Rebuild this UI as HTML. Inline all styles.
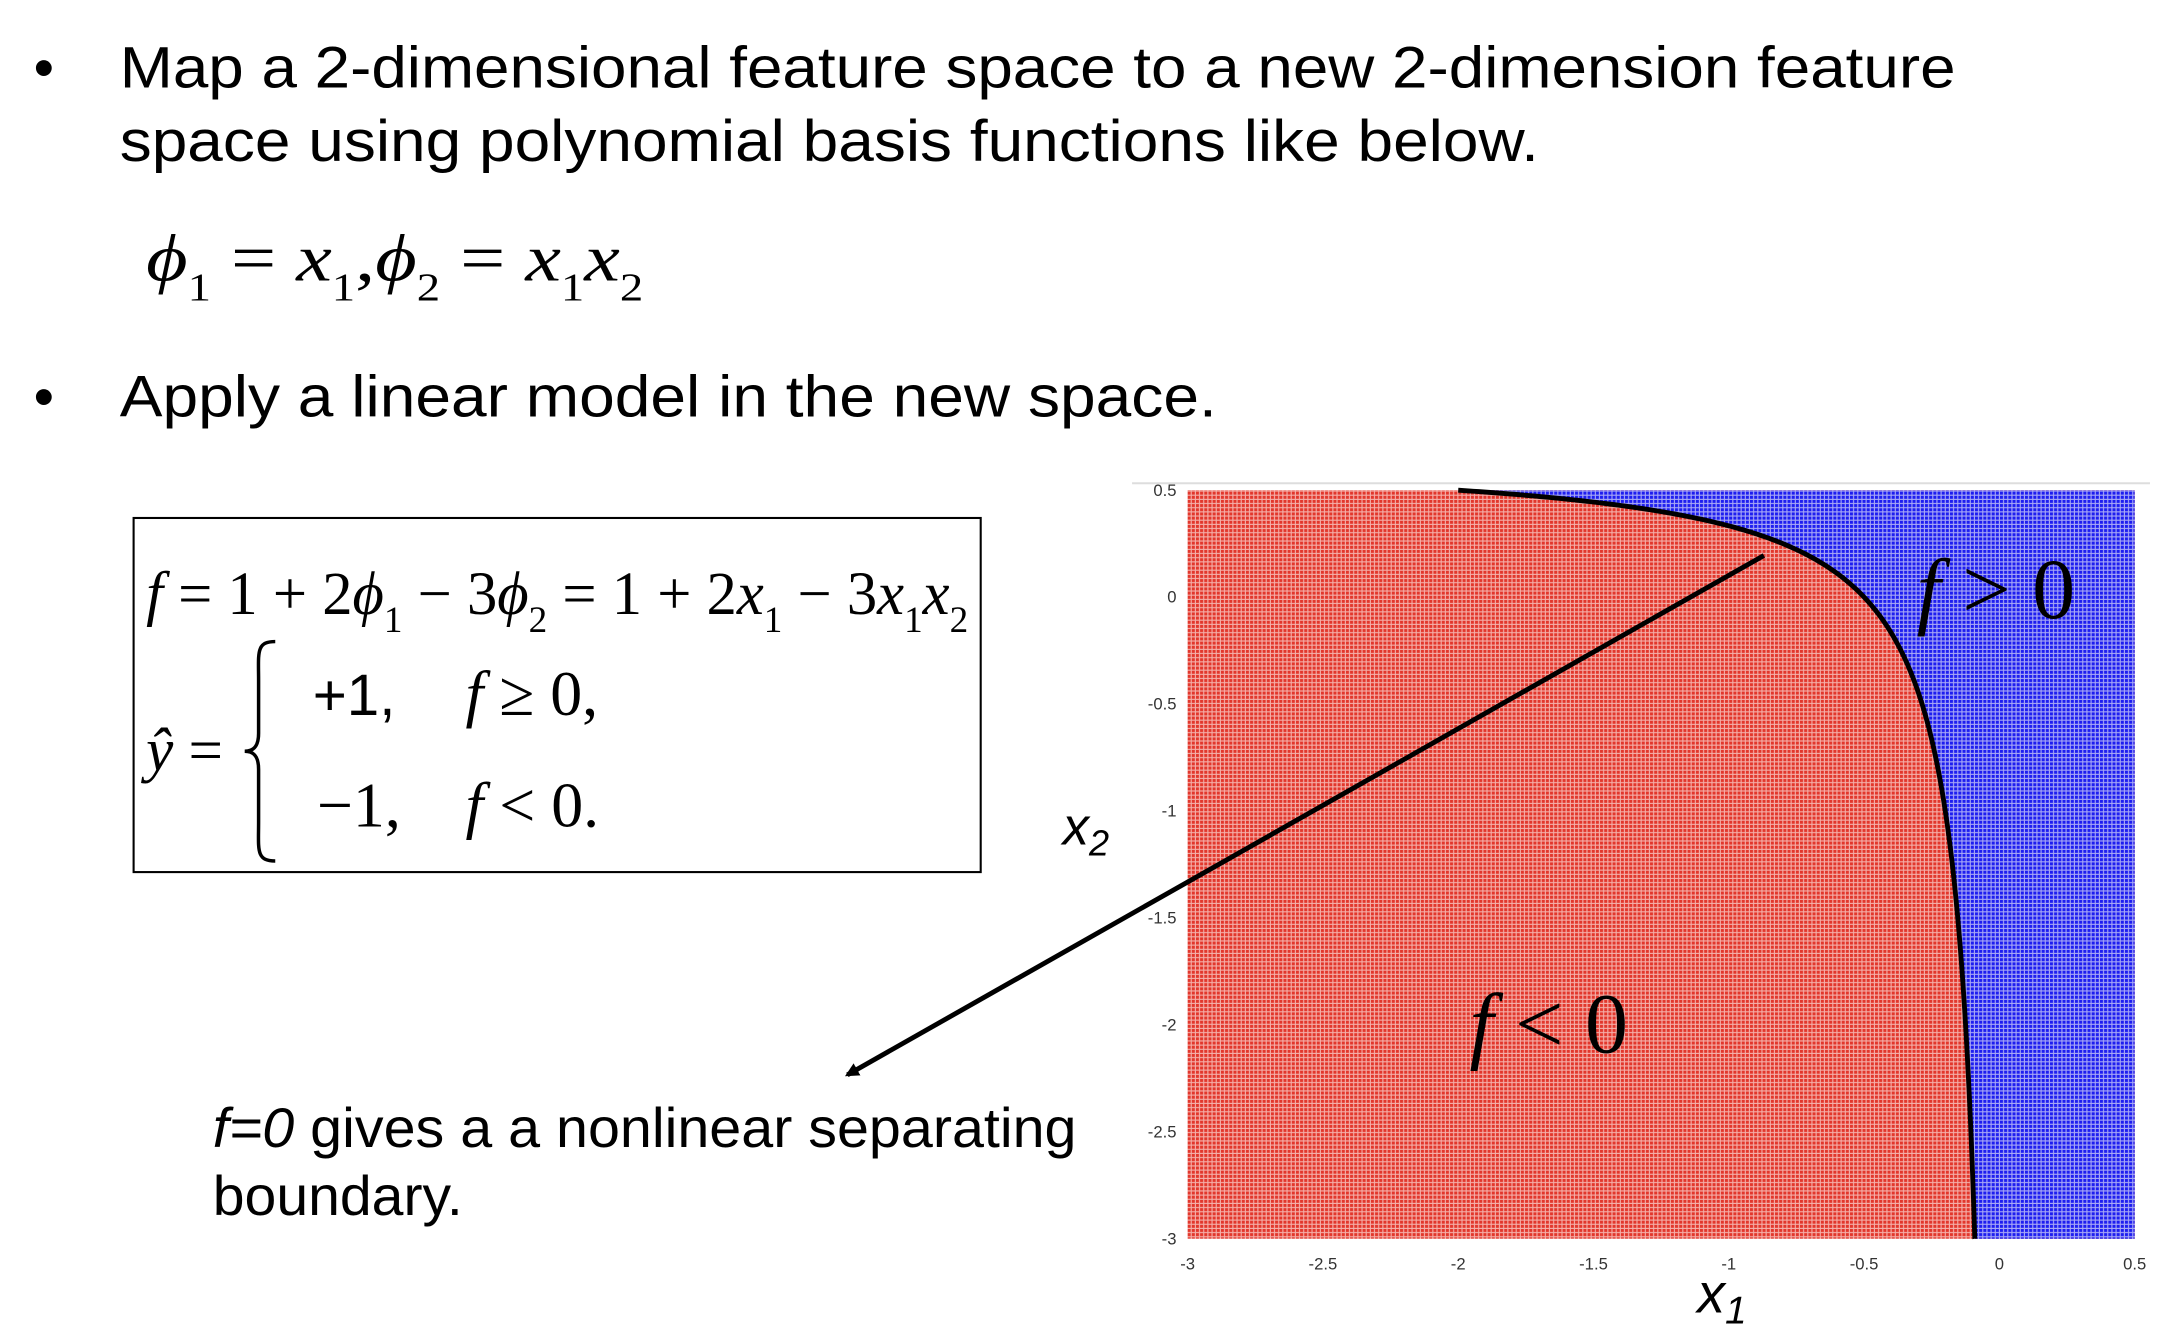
<!DOCTYPE html>
<html><head><meta charset="utf-8"><style>
html,body{margin:0;padding:0;background:#fff;width:2180px;height:1330px;overflow:hidden}
svg{display:block}
.sans{font-family:"Liberation Sans",Arial,sans-serif}
.serif{font-family:"Liberation Serif","Times New Roman",serif}
</style></head><body>
<svg id="s" width="2180" height="1330" viewBox="0 0 1560 952" xmlns="http://www.w3.org/2000/svg">
<defs>
<pattern id="pr" width="3" height="3" patternUnits="userSpaceOnUse"><rect width="3" height="3" fill="#f4b0aa"/><rect width="2.2" height="2.2" fill="#e2372c"/></pattern>
<pattern id="pb" width="3" height="3" patternUnits="userSpaceOnUse"><rect width="3" height="3" fill="#a9a9f5"/><rect width="2.2" height="2.2" fill="#1e1ef0"/></pattern>
<marker id="ah" markerWidth="10" markerHeight="10" refX="8" refY="5" orient="auto" markerUnits="userSpaceOnUse"><path d="M0,0 L10,5 L0,10 z" fill="#000"/></marker>
</defs>
<g transform="scale(0.994)">
<g class="sans" font-size="42" fill="#000">
<text x="24" y="63">•</text>
<text x="86" y="63" textLength="1322" lengthAdjust="spacingAndGlyphs">Map a 2-dimensional feature space to a new 2-dimension feature</text>
<text x="86" y="116" textLength="1022" lengthAdjust="spacingAndGlyphs">space using polynomial basis functions like below.</text>
<text x="24" y="300">•</text>
<text x="86" y="300" textLength="790" lengthAdjust="spacingAndGlyphs">Apply a linear model in the new space.</text>
</g>
<text class="serif" x="105" y="202" font-size="48" textLength="358" lengthAdjust="spacingAndGlyphs"><tspan font-style="italic">ϕ</tspan><tspan font-size="28" dy="14">1</tspan><tspan dy="-14"> = </tspan><tspan font-style="italic">x</tspan><tspan font-size="28" dy="14">1</tspan><tspan dy="-14">,</tspan><tspan font-style="italic">ϕ</tspan><tspan font-size="28" dy="14">2</tspan><tspan dy="-14"> = </tspan><tspan font-style="italic">x</tspan><tspan font-size="28" dy="14">1</tspan><tspan font-style="italic" dy="-14">x</tspan><tspan font-size="28" dy="14">2</tspan></text>
<rect x="96" y="373" width="610" height="255" fill="none" stroke="#000" stroke-width="1.5"/>
<text class="serif" x="105" y="442" font-size="44" textLength="592" lengthAdjust="spacingAndGlyphs"><tspan font-style="italic">f</tspan><tspan> = 1 + 2</tspan><tspan font-style="italic">ϕ</tspan><tspan font-size="27" dy="13">1</tspan><tspan dy="-13"> − 3</tspan><tspan font-style="italic">ϕ</tspan><tspan font-size="27" dy="13">2</tspan><tspan dy="-13"> = 1 + 2</tspan><tspan font-style="italic">x</tspan><tspan font-size="27" dy="13">1</tspan><tspan dy="-13"> − 3</tspan><tspan font-style="italic">x</tspan><tspan font-size="27" dy="13">1</tspan><tspan font-style="italic" dy="-13">x</tspan><tspan font-size="27" dy="13">2</tspan></text>
<text class="serif" x="105" y="555" font-size="44"><tspan font-style="italic">ŷ</tspan> =</text>
<path d="M198,462 C184,462 186,470 186,490 L186,528 C186,538 182,541 176,541 C182,541 186,544 186,554 L186,592 C186,612 184,620 198,620" fill="none" stroke="#000" stroke-width="2.5"/>
<text class="sans" x="225" y="515" font-size="42">+1,</text>
<text class="serif" x="335" y="515" font-size="46"><tspan font-style="italic">f</tspan> ≥ 0,</text>
<text class="serif" x="228" y="595" font-size="46">−1,</text>
<text class="serif" x="335" y="595" font-size="46"><tspan font-style="italic">f</tspan> &lt; 0.</text>
<line x1="815" y1="348" x2="1548" y2="348" stroke="#ddd" stroke-width="1.5"/>
<g id="plot"></g>
<text class="sans" x="765" y="608" font-size="38" font-style="italic">x<tspan font-size="26" dy="8">2</tspan></text>
<text class="sans" x="1222" y="945" font-size="40" font-style="italic">x<tspan font-size="28" dy="8">1</tspan></text>
<text class="sans" x="153" y="826" font-size="40" textLength="622" lengthAdjust="spacingAndGlyphs"><tspan font-style="italic">f=0</tspan> gives a a nonlinear separating</text>
<text class="sans" x="153" y="875" font-size="40" textLength="180" lengthAdjust="spacingAndGlyphs">boundary.</text>
</g>
</svg>
<script>
const weights=[1,2,-3];
const xTicks=[-3,-2.5,-2,-1.5,-1,-0.5,0,0.5];
const yTicks=[0.5,0,-0.5,-1,-1.5,-2,-2.5,-3];
const xTickLabels=["-3","-2.5","-2","-1.5","-1","-0.5","0","0.5"];
const yTickLabels=["0.5","0","-0.5","-1","-1.5","-2","-2.5","-3"];
const xDomain=[-3,0.5], yDomain=[-3,0.5];
const L=855,R=1537,T=353,B=892;
const sx=v=>L+(v-xDomain[0])/(xDomain[1]-xDomain[0])*(R-L);
const sy=v=>B-(v-yDomain[0])/(yDomain[1]-yDomain[0])*(B-T);
const NS="http://www.w3.org/2000/svg";
const g=document.getElementById('plot');
function mk(t,a){const e=document.createElementNS(NS,t);for(const k in a)e.setAttribute(k,a[k]);g.appendChild(e);return e;}
const red=mk('rect',{x:L,y:T,width:R-L,height:B-T,fill:'url(#pr)'});


const x2of=x1=>-(weights[0]+weights[1]*x1)/(weights[2]*x1);
const x1of=x2=>-weights[0]/(weights[1]+weights[2]*x2);
const xs=x1of(yDomain[1]), xe=x1of(yDomain[0]);
const pts=[];const N=300;
for(let i=0;i<=N;i++){const t=i/N;const x1=xs+(xe-xs)*(1-Math.pow(1-t,3));const x2=Math.max(yDomain[0],Math.min(yDomain[1],x2of(x1)));pts.push([sx(x1),sy(x2)]);}
const bp=pts.map(p=>p[0].toFixed(2)+','+p[1].toFixed(2)).join(' ');
const blue=mk('polygon',{points:bp+' '+sx(xDomain[1])+','+sy(yDomain[0])+' '+sx(xDomain[1])+','+sy(yDomain[1]),fill:'url(#pb)'});


const bl=mk('polyline',{points:bp,fill:'none',stroke:'#000','stroke-width':3.5});


xTicks.forEach((v,i)=>{const t=mk('text',{x:sx(v),y:B+22,'font-size':12,'text-anchor':'middle',fill:'#333','font-family':'Liberation Sans,sans-serif'});t.textContent=xTickLabels[i];

});
yTicks.forEach((v,i)=>{const t=mk('text',{x:L-8,y:sy(v)+4,'font-size':12,'text-anchor':'end',fill:'#333','font-family':'Liberation Sans,sans-serif'});t.textContent=yTickLabels[i];

});
const ar=mk('line',{x1:1270,y1:400,x2:610,y2:774,stroke:'#000','stroke-width':3.5,'marker-end':'url(#ah)'});


const fp=mk('text',{x:1380,y:445,'font-size':62,'font-family':'Liberation Serif,serif',fill:'#000'});
fp.innerHTML='<tspan font-style="italic">f</tspan> &gt; 0';


const fn=mk('text',{x:1058,y:758,'font-size':62,'font-family':'Liberation Serif,serif',fill:'#000'});
fn.innerHTML='<tspan font-style="italic">f</tspan> &lt; 0';


</script>
</body></html>
